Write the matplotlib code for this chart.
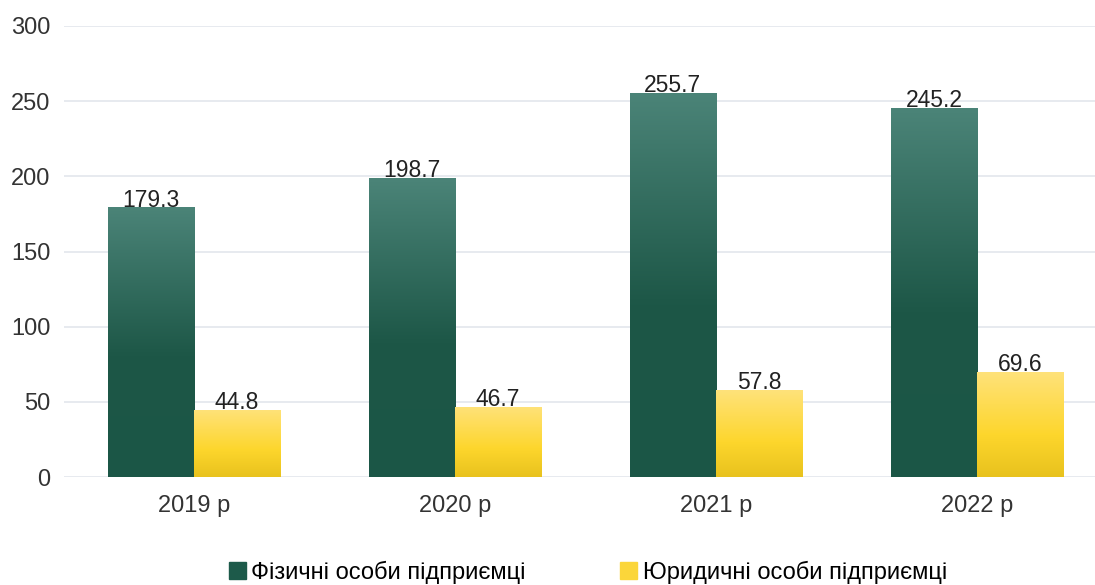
"""Grouped bar chart: individual vs legal entrepreneurs, 2019-2022."""

import matplotlib

matplotlib.use("Agg")
import matplotlib.pyplot as plt
import numpy as np
from matplotlib.colors import LinearSegmentedColormap
from matplotlib.patches import Rectangle

plt.rcParams["font.family"] = ["Liberation Sans", "DejaVu Sans"]

years = ["2019 р", "2020 р", "2021 р", "2022 р"]
individuals = [179.3, 198.7, 255.7, 245.2]
legal = [44.8, 46.7, 57.8, 69.6]
series_names = ["Фізичні особи підприємці", "Юридичні особи підприємці"]

green_cmap = LinearSegmentedColormap.from_list(
    "g", [(0.0, "#1b5646"), (0.45, "#1d5747"), (1.0, "#4b8478")])
yellow_cmap = LinearSegmentedColormap.from_list(
    "y", [(0.0, "#e8c21e"), (0.4, "#fdd62c"), (1.0, "#ffe27a")])

fig = plt.figure(figsize=(10.95, 5.85), dpi=100)
ax = fig.add_axes([63.5 / 1095, 108 / 585, 1044 / 1095, 451 / 585])

x = np.arange(len(years))
w = 0.33
grad = np.linspace(0, 1, 256).reshape(-1, 1)


def grad_bars(xs, vals, cmap):
    for xi, v in zip(xs, vals):
        rect = Rectangle((xi - w / 2, 0), w, v, facecolor="none", edgecolor="none")
        ax.add_patch(rect)
        im = ax.imshow(grad, cmap=cmap, origin="lower", aspect="auto",
                       extent=(xi - w / 2, xi + w / 2, 0, v), zorder=2)
        im.set_clip_path(rect)
        ax.text(xi, v + 0.6, f"{v:.1f}", ha="center", va="baseline",
                fontsize=16.5, color="#222222", zorder=3)


grad_bars(x - w / 2, individuals, green_cmap)
grad_bars(x + w / 2, legal, yellow_cmap)

ax.set_xlim(-0.5, len(years) - 0.5)
ax.set_ylim(0, 300)
ax.set_yticks(np.arange(0, 301, 50))
ax.set_xticks(x)
ax.set_xticklabels(years)
ax.tick_params(length=0, labelsize=17, colors="#333333")
ax.tick_params(axis="x", pad=13)
ax.tick_params(axis="y", pad=9.5)
ax.yaxis.grid(True, color="#e5e8ee", lw=1.3)
ax.set_axisbelow(True)
for s in ax.spines.values():
    s.set_visible(False)

handles = [Rectangle((0, 0), 1, 1, color="#1d5a4a"),
           Rectangle((0, 0), 1, 1, color="#fbd63a")]
fig.legend(handles, series_names, loc="center", bbox_to_anchor=(0.537, 0.022),
           ncol=2, frameon=False, fontsize=17, handlelength=0.7,
           handleheight=0.7, handletextpad=0.25, columnspacing=4.0)

fig.savefig("out.png", dpi=100)
